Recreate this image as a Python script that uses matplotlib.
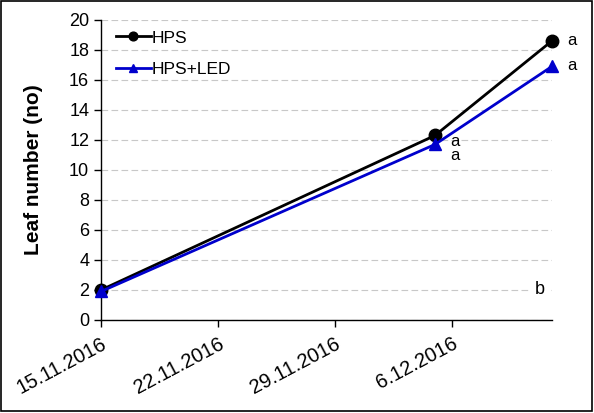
import datetime as dt
import matplotlib
matplotlib.use("Agg")
import matplotlib.pyplot as plt
from matplotlib.patches import Rectangle

plt.rcParams['font.family'] = ['Liberation Sans', 'DejaVu Sans']

# data
dates = [dt.date(2016, 11, 15), dt.date(2016, 12, 5), dt.date(2016, 12, 12)]
hps = [2.0, 12.3, 18.6]
hps_led = [1.9, 11.7, 16.9]
hps_letters = ["", "a", "a"]
led_letters = ["", "a", "a"]
tick_dates = [dt.date(2016, 11, 15), dt.date(2016, 11, 22),
              dt.date(2016, 11, 29), dt.date(2016, 12, 6)]
tick_labels = ["15.11.2016", "22.11.2016", "29.11.2016", "6.12.2016"]
yticks = list(range(0, 21, 2))

fig = plt.figure(figsize=(5.94, 4.13), dpi=100)
ax = fig.add_axes([0.170, 0.2252, 0.759, 0.7264])

ax.plot(dates, hps, color='black', lw=2, marker='o', ms=9, label='HPS',
        clip_on=False, zorder=4)
ax.plot(dates, hps_led, color='#0000CC', lw=2, marker='^', ms=9,
        label='HPS+LED', clip_on=False, zorder=5)

# significance letters
ax.annotate(hps_letters[2], (dates[2], hps[2]), xytext=(11, 0),
            textcoords='offset points', fontsize=12, va='center')
ax.annotate(led_letters[2], (dates[2], hps_led[2]), xytext=(11, 1),
            textcoords='offset points', fontsize=12, va='center')
ax.annotate(hps_letters[1], (dates[1], hps_led[1]), xytext=(11, 2),
            textcoords='offset points', fontsize=12, va='center')
ax.annotate(led_letters[1], (dates[1], hps_led[1]), xytext=(11, -8),
            textcoords='offset points', fontsize=12, va='center')
ax.annotate("b", (dates[2], hps[0]), xytext=(-9, 0),
            textcoords='offset points', fontsize=13, va='center', ha='center',
            bbox=dict(facecolor='white', edgecolor='none', pad=4))

ax.set_xlim(dates[0], dates[2])
ax.set_ylim(0, 20)
ax.set_yticks(yticks)
ax.set_xticks(tick_dates)
ax.set_xticklabels(tick_labels, rotation=28, ha='right', rotation_mode='anchor')
ax.tick_params(axis='both', direction='out', length=5, width=1)
ax.tick_params(axis='y', labelsize=13)
ax.tick_params(axis='x', labelsize=14.5, pad=5)
ax.yaxis.grid(True, color='#c8c8c8', ls=(0, (6, 3)), lw=0.8)
ax.set_axisbelow(True)
for s in ['top', 'right']:
    ax.spines[s].set_visible(False)
ax.spines['left'].set_linewidth(1)
ax.spines['bottom'].set_linewidth(1)

ax.set_ylabel("Leaf number (no)", fontsize=15, fontweight='bold', labelpad=19)

ax.legend(loc='upper left', frameon=False, fontsize=12.5, handlelength=2.0,
          handletextpad=0.05, labelspacing=0.95, borderaxespad=0.2,
          markerscale=0.7, bbox_to_anchor=(0.01, 1.0))

fig.patches.append(Rectangle((0.002, 0.004), 0.994, 0.993,
                             transform=fig.transFigure, fill=False,
                             edgecolor='black', lw=1.2))

fig.savefig("out.png", dpi=100)
